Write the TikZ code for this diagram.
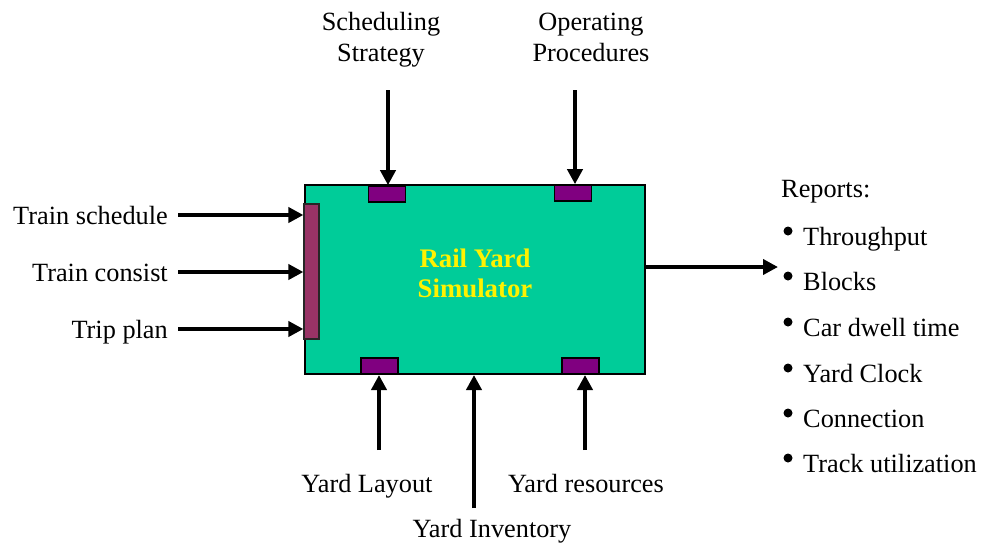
\documentclass[tikz,border=0pt]{standalone}
\usepackage{fontspec}
\setmainfont{Liberation Serif}
\usetikzlibrary{arrows.meta}
\definecolor{simgreen}{RGB}{0,204,153}
\definecolor{portpurple}{RGB}{128,0,128}
\definecolor{barmaroon}{RGB}{153,51,102}
\begin{document}
\begin{tikzpicture}[x=1pt,y=-1pt,
  lbl/.style={inner sep=0pt, font=\fontsize{26.3}{31}\selectfont},
  flow/.style={line width=4.3pt, -{Triangle[length=15pt,width=15pt]}},
  port/.style={draw=black, line width=1.6pt, fill=portpurple, inner sep=0pt,
               minimum width=37pt, minimum height=16pt},
  bulletdot/.style={circle, fill=black, inner sep=0pt, minimum size=9pt},
]
\useasboundingbox (0,0) rectangle (982,544);

% simulator block with its ports
\node[draw=black, line width=2pt, fill=simgreen, inner sep=0pt,
      minimum width=340pt, minimum height=189pt] (sim) at (475,279.5) {};
\node[draw=black!85, line width=1.2pt, fill=barmaroon, inner sep=0pt,
      minimum width=15pt, minimum height=135pt] (bar) at (311.5,271.5) {};
\node[port] (ptl) at (387,194) {};
\node[port] (ptr) at (573,193) {};
\node[port] (pbl) at (379.5,366) {};
\node[port] (pbr) at (580.5,366) {};
\node[inner sep=0pt, align=center, text=yellow,
      font=\fontsize{26.8}{30}\selectfont\bfseries] (title) at (475,273)
      {Rail Yard\\Simulator};

% inputs on the left
\node[lbl, anchor=base east] (tsch) at (168,224) {Train schedule};
\node[lbl, anchor=base east] (tcon) at (168,281) {Train consist};
\node[lbl, anchor=base east] (trip) at (168,338) {Trip plan};
\draw[flow] ([xshift=10pt]tsch.east |- 0,215) -- (bar.west |- 0,215);
\draw[flow] ([xshift=10pt]tcon.east |- 0,272) -- (bar.west |- 0,272);
\draw[flow] ([xshift=10pt]trip.east |- 0,329) -- (bar.west |- 0,329);

% controls on top
\node[lbl, anchor=base] (sched1) at (381,30) {Scheduling};
\node[lbl, anchor=base] (sched2) at (381,61) {Strategy};
\node[lbl, anchor=base] (oper1) at (591,30) {Operating};
\node[lbl, anchor=base] (oper2) at (591,61) {Procedures};
\coordinate (schedTail) at (388,90);
\coordinate (operTail) at (575,90);
\draw[flow] (schedTail) -- (schedTail |- ptl.north);
\draw[flow] (operTail) -- (operTail |- ptr.north);

% mechanisms below
\node[lbl, anchor=base] (layout) at (367,492) {Yard Layout};
\node[lbl, anchor=base] (resrc) at (586,492) {Yard resources};
\node[lbl, anchor=base] (inv) at (492,537) {Yard Inventory};
\coordinate (layoutTail) at (379,450);
\coordinate (resrcTail) at (585,450);
\coordinate (invTail) at (474,508);
\draw[flow] (layoutTail) -- (layoutTail |- sim.south);
\draw[flow] (resrcTail) -- (resrcTail |- sim.south);
\draw[flow] (invTail) -- (invTail |- sim.south);

% outputs on the right
\node[lbl, anchor=base west] (reports) at (781,197) {Reports:};
\coordinate (outTip) at (778,267);
\draw[flow] (sim.east |- outTip) -- (outTip);
\foreach \name/\txt/\yb in {r1/Throughput/245, r2/Blocks/290, r3/Car dwell time/336,
                            r4/Yard Clock/382, r5/Connection/427, r6/Track utilization/472}{
  \node[lbl, anchor=base west] (\name) at (803,\yb) {\txt};
  \node[bulletdot] (\name dot) at (788,\yb-14) {};
}
\end{tikzpicture}
\end{document}
